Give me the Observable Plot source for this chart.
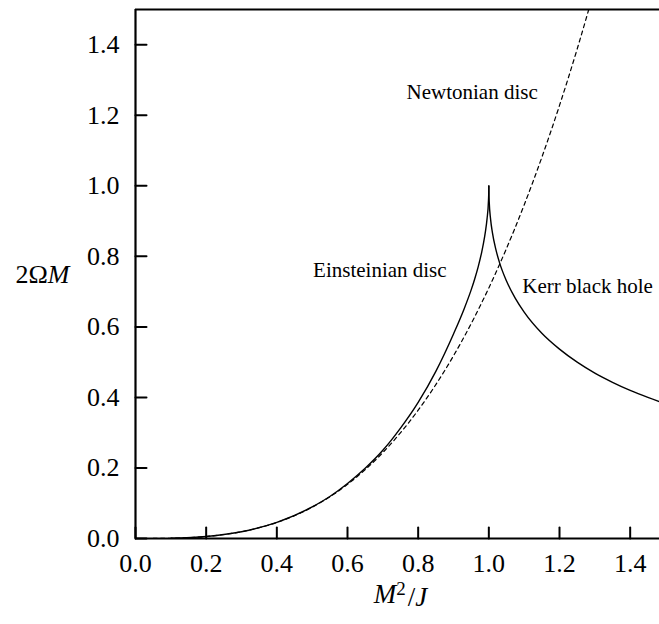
<!DOCTYPE html>
<html>
<head>
<meta charset="utf-8">
<script src="https://cdn.jsdelivr.net/npm/d3@7"></script>
<script src="https://cdn.jsdelivr.net/npm/@observablehq/plot@0.6"></script>
<style>
  html, body { margin: 0; padding: 0; background: #fff; }
  svg text { font-family: 'Liberation Serif', 'DejaVu Serif', serif !important; font-variant-numeric: normal !important; }
</style>
</head>
<body>
<div id="chart"></div>
<script>
// ---- data ----
const xTicks = [0, 0.2, 0.4, 0.6, 0.8, 1.0, 1.2, 1.4];
const yTicks = [0, 0.2, 0.4, 0.6, 0.8, 1.0, 1.2, 1.4];

const einsteinX = [0.10, 0.20, 0.30, 0.40, 0.50, 0.55, 0.60, 0.65, 0.70, 0.75, 0.80, 0.85, 0.90, 0.93, 0.95, 0.96, 0.97, 0.98, 0.985, 0.99, 0.995, 0.999, 0.9999, 1.0];
const einsteinY = [0.0007, 0.0057, 0.0193, 0.0458, 0.0895, 0.119, 0.156, 0.199, 0.250, 0.313, 0.386, 0.474, 0.580, 0.651, 0.705, 0.736, 0.771, 0.813, 0.838, 0.868, 0.907, 0.958, 0.987, 1.0];

const kerrX = [1.0, 1.0001, 1.001, 1.005, 1.01, 1.02, 1.03, 1.05, 1.075, 1.1, 1.15, 1.2, 1.25, 1.3, 1.35, 1.4, 1.45, 1.5];
const kerrY = [1.0, 0.986, 0.956, 0.905, 0.868, 0.819, 0.783, 0.730, 0.681, 0.642, 0.582, 0.537, 0.500, 0.469, 0.443, 0.420, 0.400, 0.382];

const newtonX = [0.05, 0.1, 0.2, 0.3, 0.4, 0.5, 0.6, 0.7, 0.8, 0.85, 0.9, 0.95, 1.0, 1.05, 1.1, 1.15, 1.2, 1.25, 1.28, 1.3];
const newtonY = [0.0001, 0.0007, 0.0057, 0.0192, 0.0455, 0.0888, 0.1535, 0.2437, 0.3638, 0.4364, 0.5180, 0.6093, 0.7106, 0.8226, 0.9458, 1.0808, 1.2280, 1.3879, 1.4903, 1.5612];

const labelTexts = ["Newtonian disc", "Einsteinian disc", "Kerr black hole"];
const labelX = [0.767, 0.5025, 1.0946];
const labelY = [1.265, 0.760, 0.715];

const xLabel = "M²/J";
const yLabel = "2ΩM";

// ---- build tables ----
const einstein = einsteinX.map((x, i) => ({x, y: einsteinY[i]}));
const kerr = kerrX.map((x, i) => ({x, y: kerrY[i]}));
const newton = newtonX.map((x, i) => ({x, y: newtonY[i]}));
const labels = labelTexts.map((t, i) => ({t, x: labelX[i], y: labelY[i]}));

const tickUp = {draw(ctx, l) { ctx.moveTo(0, 0); ctx.lineTo(0, -l); }};
const tickRight = {draw(ctx, l) { ctx.moveTo(0, 0); ctx.lineTo(l, 0); }};

const FONT = "'Liberation Serif', 'DejaVu Serif', serif";

const chart = Plot.plot({
  width: 659,
  height: 624,
  marginLeft: 135,
  marginRight: 0,
  marginTop: 9,
  marginBottom: 86,
  style: {fontFamily: FONT, fontSize: "26px", color: "#000", background: "#fff"},
  x: {domain: [0, 1.483]},
  y: {domain: [0, 1.5]},
  marks: [
    Plot.line(newton, {x: "x", y: "y", stroke: "#000", strokeWidth: 1.2, strokeDasharray: "4,3.5", curve: "monotone-x", clip: true}),
    Plot.line(einstein, {x: "x", y: "y", stroke: "#000", strokeWidth: 1.4, curve: "monotone-x", clip: true}),
    Plot.line(kerr, {x: "x", y: "y", stroke: "#000", strokeWidth: 1.4, curve: "monotone-x", clip: true}),
    Plot.text(labels, {x: "x", y: "y", text: "t", textAnchor: "start", fontSize: 21, fill: "#000", fontFamily: FONT}),
    Plot.axisX({ticks: xTicks, tickSize: 0, tickPadding: 15, tickFormat: d3.format(".1f"), fontSize: 26, fontFamily: FONT, fontVariant: "normal", label: null}),
    Plot.axisY({ticks: yTicks, tickSize: 0, tickPadding: 16, tickFormat: d3.format(".1f"), fontSize: 26, fontFamily: FONT, fontVariant: "normal", label: null}),
    Plot.vector(xTicks, {x: d => d, y: 0, length: 11, anchor: "start", shape: tickUp, stroke: "#000", strokeWidth: 2}),
    Plot.vector(yTicks, {x: 0, y: d => d, length: 11, anchor: "start", shape: tickRight, stroke: "#000", strokeWidth: 2}),
    Plot.ruleY([0, 1.5], {stroke: "#000", strokeWidth: 2.2}),
    Plot.ruleX([0], {stroke: "#000", strokeWidth: 2.2}),
    Plot.text([yLabel], {frameAnchor: "left", dx: -120, dy: 1, textAnchor: "start", fontSize: 26, fill: "#000", fontFamily: FONT}),
    Plot.text([xLabel], {frameAnchor: "bottom", dx: 3, dy: 64, fontSize: 27, fill: "#000", fontFamily: FONT})
  ]
});

// italicize the math symbols in axis labels
d3.select(chart).selectAll("text").each(function () {
  const s = this.textContent;
  if (s === yLabel) {
    const t = d3.select(this); t.text(null);
    t.append("tspan").text("2Ω");
    t.append("tspan").attr("font-style", "italic").text("M");
  } else if (s === xLabel) {
    const t = d3.select(this); t.text(null);
    t.append("tspan").attr("font-style", "italic").text("M");
    t.append("tspan").attr("font-size", "19px").attr("dy", "-0.42em").text("2");
    t.append("tspan").attr("dy", "0.42em").attr("dx", "2").text("/");
    t.append("tspan").attr("font-style", "italic").text("J");
  }
});

document.getElementById("chart").appendChild(chart);
</script>
</body>
</html>
